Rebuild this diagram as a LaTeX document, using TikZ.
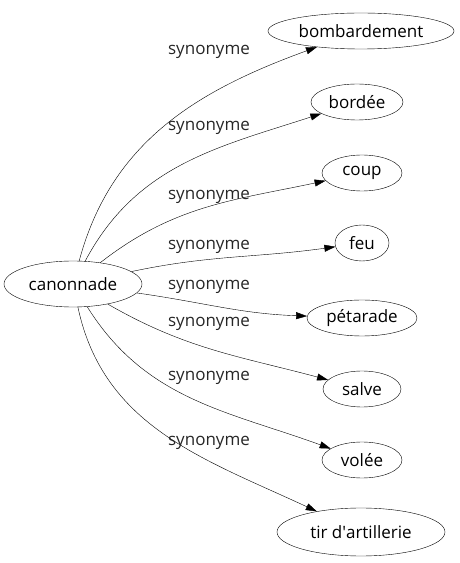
\documentclass[tikz,border=0pt]{standalone}
\usepackage{fontspec}
\setmainfont{Open Sans}
\usepackage{tikz}
\usetikzlibrary{arrows.meta,positioning,shapes.geometric}

\begin{document}
\begin{tikzpicture}[x=1pt,y=1pt,
  word/.style={draw,ellipse,inner sep=0pt,minimum height=36pt,font=\fontsize{17}{19}\selectfont},
  lbl/.style={font=\fontsize{17}{19}\selectfont,text=black!85},
  arr/.style={-{Triangle[length=11pt,width=7pt]},thin}
]
\useasboundingbox (0,0) rectangle (459,563);
\node[word,minimum width=138pt,minimum height=46pt] (canon) at (73,279) {canonnade};

\node[word,minimum width=186pt] (bomb) at (361,532) {bombardement};
\node[word,minimum width=92pt] (bord) at (357,461) {bordée};
\node[word,minimum width=80pt] (coup) at (362,390) {coup};
\node[word,minimum width=54pt] (feu) at (362,320) {feu};
\node[word,minimum width=110pt] (petar) at (362,245) {pétarade};
\node[word,minimum width=78pt] (salve) at (362,174) {salve};
\node[word,minimum width=80pt] (volee) at (362,103) {volée};
\node[word,minimum width=168pt,minimum height=48pt] (tir) at (361,31) {tir d\textquotesingle artillerie};

\draw[arr] (canon) to[out=75,in=200] (bomb);
\draw[arr] (canon) to[out=62,in=198] (bord);
\draw[arr] (canon) to[out=38,in=192] (coup);
\draw[arr] (canon) to[out=12,in=188] (feu);
\draw[arr] (canon) to[out=-8,in=178] (petar);
\draw[arr] (canon) to[out=-30,in=165] (salve);
\draw[arr] (canon) to[out=-58,in=160] (volee);
\draw[arr] (canon) to[out=-78,in=155] (tir);

\node[lbl] (l1) at (209,511) {synonyme};
\node[lbl] (l2) at (209,435) {synonyme};
\node[lbl] (l3) at (209,366) {synonyme};
\node[lbl] (l4) at (209,316) {synonyme};
\node[lbl] (l5) at (209,276) {synonyme};
\node[lbl] (l6) at (209,239) {synonyme};
\node[lbl] (l7) at (209,185) {synonyme};
\node[lbl] (l8) at (209,120) {synonyme};
\end{tikzpicture}
\end{document}
